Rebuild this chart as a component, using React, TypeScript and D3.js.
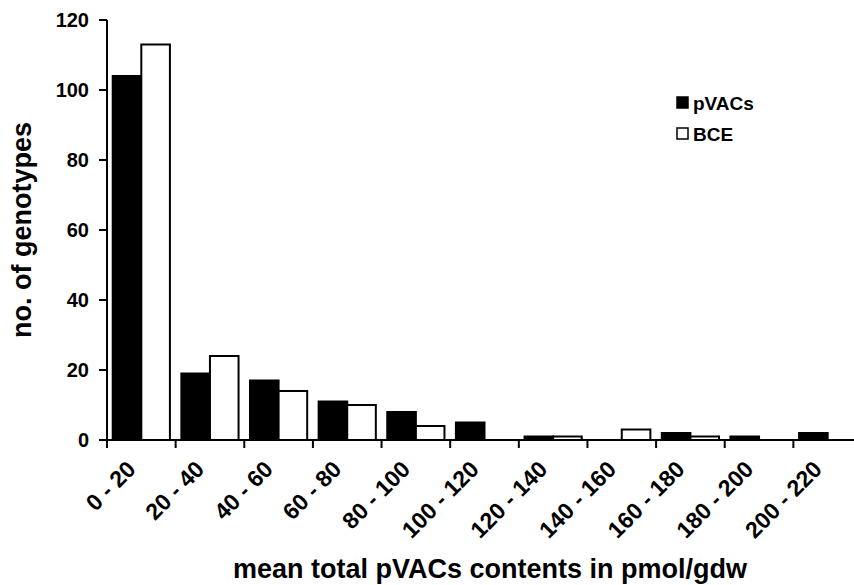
import React from "react";
import * as d3 from "d3";

const categories = ["0 - 20","20 - 40","40 - 60","60 - 80","80 - 100","100 - 120","120 - 140","140 - 160","160 - 180","180 - 200","200 - 220"];
const pVACs = [104, 19, 17, 11, 8, 5, 1, 0, 2, 1, 2];
const BCE = [113, 24, 14, 10, 4, 0, 1, 3, 1, 0, 0];
const yTicks = [0, 20, 40, 60, 80, 100, 120];
const seriesNames = ["pVACs", "BCE"];

const W = 854, H = 585;
const left = 107, right = 862, top = 20, bottom = 440;
const font = "'Liberation Sans', Arial, sans-serif";

export default function App() {
  const x = d3.scaleBand<string>().domain(categories).range([left, right]).paddingInner(0).paddingOuter(0);
  const inner = d3.scaleBand<string>().domain(seriesNames).range([0, x.bandwidth()]).paddingInner(0).paddingOuter(0.2);
  const y = d3.scaleLinear().domain([0, 120]).range([bottom, top]);
  const series = [pVACs, BCE];
  const fills = ["#000", "#fff"];
  return (
    <svg width={W} height={H} style={{ position: "absolute", left: 0, top: 0, background: "#fff" }} fontFamily={font}>
      <rect x={0} y={0} width={W} height={H} fill="#fff" />
      {series.map((s, si) =>
        s.map((v, i) => {
          const bx = (x(categories[i]) as number) + (inner(seriesNames[si]) as number);
          return v > 0 ? (
            <rect key={`${si}-${i}`} x={bx} y={y(v)} width={inner.bandwidth()} height={bottom - y(v)}
              fill={fills[si]} stroke="#000" strokeWidth={2} />
          ) : null;
        })
      )}
      {/* y axis */}
      <line x1={left} x2={left} y1={top} y2={bottom} stroke="#000" strokeWidth={2} />
      {yTicks.map(t => (
        <g key={t}>
          <line x1={left - 8} x2={left} y1={y(t)} y2={y(t)} stroke="#000" strokeWidth={2} />
          <text x={left - 18} y={y(t)} dy="0.36em" textAnchor="end" fontSize={20} fontWeight="bold">{t}</text>
        </g>
      ))}
      {/* x axis */}
      <line x1={left} x2={right} y1={bottom} y2={bottom} stroke="#000" strokeWidth={2} />
      {categories.map((c, i) => (
        <line key={c} x1={x(c) as number} x2={x(c) as number} y1={bottom} y2={bottom + 8} stroke="#000" strokeWidth={2} />
      ))}
      {categories.map(c => {
        const cx = (x(c) as number) + x.bandwidth() / 2 - 10;
        const cy = bottom + 25;
        return (
          <text key={c} x={cx} y={cy} textAnchor="end" fontSize={23} fontWeight="bold"
            transform={`rotate(-45, ${cx}, ${cy})`} dy="0.35em">{c}</text>
        );
      })}
      {/* titles */}
      <text x={490} y={578} textAnchor="middle" fontSize={27} fontWeight="bold">mean total pVACs contents in pmol/gdw</text>
      <text transform={`translate(31, ${(top + bottom) / 2}) rotate(-90)`} textAnchor="middle" fontSize={27} fontWeight="bold">no. of genotypes</text>
      {/* legend */}
      {seriesNames.map((n, i) => (
        <g key={n} transform={`translate(677, ${97 + i * 31})`}>
          <rect x={0} y={0} width={11} height={11} fill={fills[i]} stroke="#000" strokeWidth={1.5} />
          <text x={16} y={13} fontSize={19} fontWeight="bold">{n}</text>
        </g>
      ))}
    </svg>
  );
}
